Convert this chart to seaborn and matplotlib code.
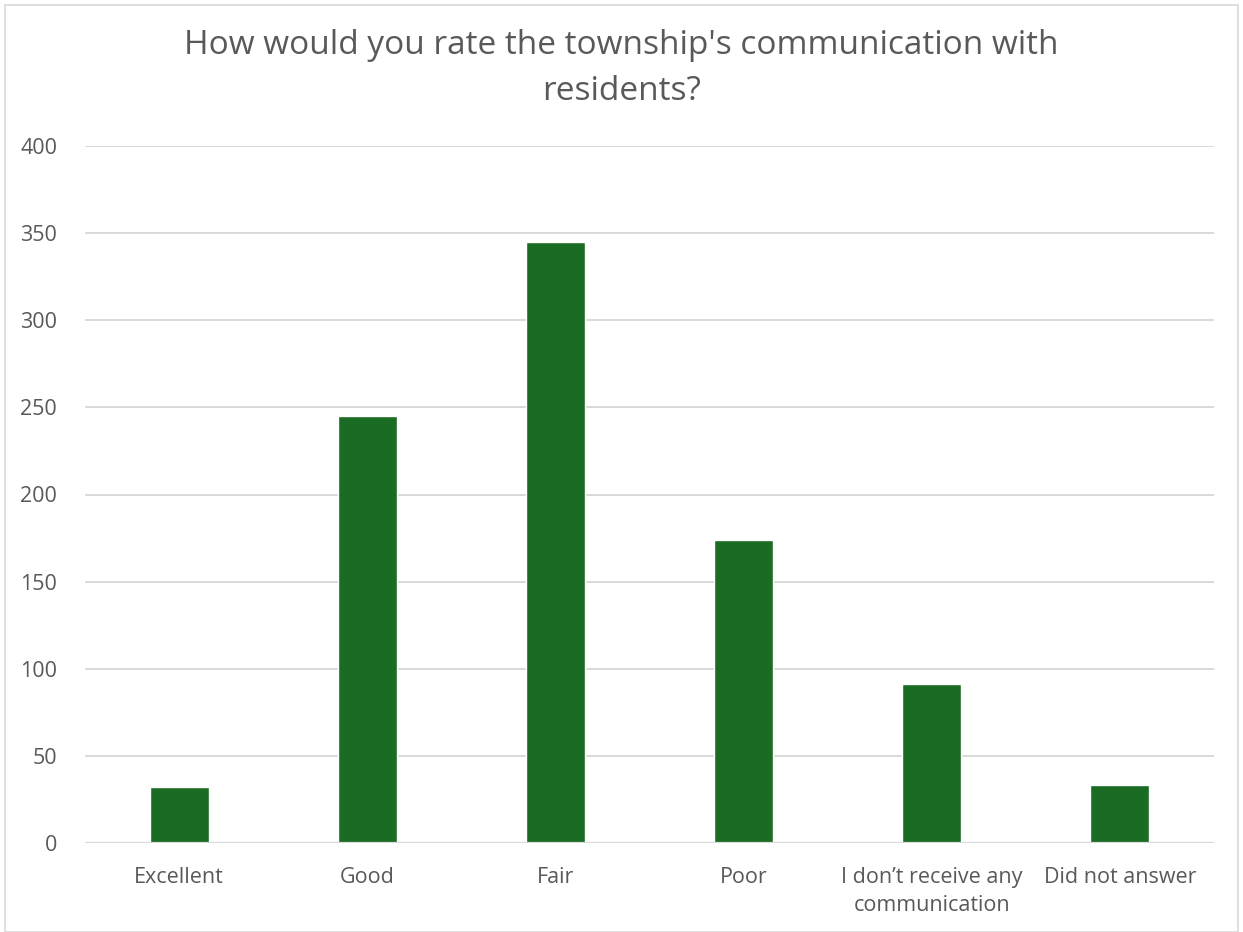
import matplotlib
matplotlib.use("Agg")
import matplotlib.pyplot as plt
import seaborn as sns
import pandas as pd
from matplotlib.patches import Rectangle

categories = ["Excellent", "Good", "Fair", "Poor",
              "I don\u2019t receive any\ncommunication", "Did not answer"]
counts = [32, 245, 345, 174, 91, 33]
y_ticks = [0, 50, 100, 150, 200, 250, 300, 350, 400]

sns.set_theme(style="white")
plt.rcParams['font.family'] = ['Open Sans', 'DejaVu Sans']

df = pd.DataFrame({"category": categories, "count": counts})

fig = plt.figure(figsize=(12.43, 9.32), dpi=100)
ax = fig.add_axes([85/1243, 1-843/932, (1214-85)/1243, (843-146)/932])

sns.barplot(data=df, x="category", y="count", color="#1A6B24",
            width=0.313, saturation=1, ax=ax, zorder=3)

ax.set_ylim(0, 400)
ax.set_yticks(y_ticks)
ax.set_yticklabels([str(t) for t in y_ticks])
ax.yaxis.grid(True, color="#D9D9D9", linewidth=1.4, zorder=0)
ax.set_axisbelow(True)
for s in ax.spines.values():
    s.set_visible(False)
ax.axhline(0, color="#D9D9D9", linewidth=1.6, zorder=4)
ax.set_xlabel("")
ax.set_ylabel("")
ax.tick_params(axis="both", length=0, labelsize=15.5, labelcolor="#595959")
ax.tick_params(axis="y", pad=20)
ax.tick_params(axis="x", pad=17)
for lbl in ax.get_xticklabels():
    lbl.set_linespacing(1.45)

fig.text(0.5, 1-45/932, "How would you rate the township's communication with",
         ha="center", va="center", fontsize=24, color="#595959")
fig.text(0.5, 1-92/932, "residents?",
         ha="center", va="center", fontsize=24, color="#595959")

fig.patches.append(Rectangle((5/1243, 0), 1233/1243, 1-5/932, transform=fig.transFigure,
                             fill=False, edgecolor="#D9D9D9", linewidth=1.2))

fig.savefig("out.png", dpi=100)
